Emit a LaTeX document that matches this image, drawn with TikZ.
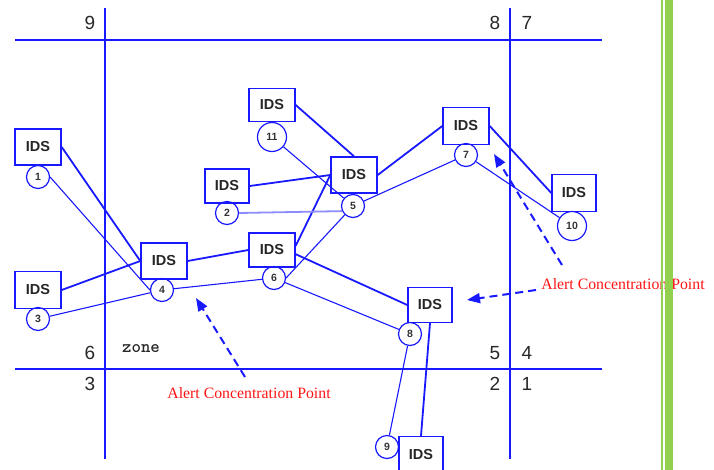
\documentclass[tikz,border=0pt]{standalone}
\usepackage{fontspec}
\setmainfont{Liberation Serif}
\setsansfont{Liberation Sans}
\usetikzlibrary{arrows.meta}
\definecolor{ln}{RGB}{25,25,255}
\definecolor{lnlight}{RGB}{140,140,255}
\definecolor{barg}{RGB}{146,208,80}
\definecolor{alertred}{RGB}{255,20,20}
\definecolor{numgray}{RGB}{40,40,40}
\begin{document}
\begin{tikzpicture}[x=1pt,y=-1pt,
  gridline/.style={draw=ln,line width=1.4pt},
  idsbox/.style={rectangle,draw=ln,line width=1.4pt,minimum width=46pt,minimum height=36pt,inner sep=0pt,
    font=\sffamily\bfseries\fontsize{14.5}{15}\selectfont,text=black!85},
  numc/.style={circle,draw=ln,line width=1.2pt,minimum size=23pt,inner sep=0pt,
    font=\sffamily\bfseries\fontsize{10.5}{11}\selectfont,text=black!80},
  bignumc/.style={numc,minimum size=29pt},
  strong/.style={draw=ln,line width=1.8pt},
  weak/.style={draw=ln,line width=1.1pt},
  faint/.style={draw=lnlight,line width=1.8pt},
  zonenum/.style={font=\sffamily\fontsize{19}{20}\selectfont,text=numgray},
  alerttext/.style={font=\fontsize{15.8}{17}\selectfont,text=alertred,inner sep=0pt},
  alertarrow/.style={draw=ln,line width=2pt,dash pattern=on 8pt off 5pt,-{Triangle[length=13pt,width=10pt]}}]
\useasboundingbox (0,0) rectangle (714,470);
\clip (0,0) rectangle (714,470);
% grid
\draw[gridline] (15,40) -- (602,40);
\draw[gridline] (15,369) -- (602,369);
\draw[gridline] (105,8) -- (105,459);
\draw[gridline] (510,8) -- (510,459);
% zone numbers
\node[zonenum] (z9) at (90,23) {9};
\node[zonenum] (z8) at (495,23) {8};
\node[zonenum] (z7) at (527,23) {7};
\node[zonenum] (z6) at (90,353) {6};
\node[zonenum] (z5) at (495,353) {5};
\node[zonenum] (z4) at (527,353) {4};
\node[zonenum] (z3) at (90,384) {3};
\node[zonenum] (z2) at (495,384) {2};
\node[zonenum] (z1) at (527,384) {1};
\node[font=\ttfamily\bfseries\fontsize{18}{19}\selectfont,text=numgray,anchor=base] (zone) at (141,352) {zone};
% IDS boxes
\node[idsbox] (b1) at (38,147) {IDS};
\node[idsbox,minimum height=33pt] (b11) at (272,105) {IDS};
\node[idsbox,minimum width=44pt,minimum height=34pt] (b2) at (227,186) {IDS};
\node[idsbox] (b5) at (354,175) {IDS};
\node[idsbox,minimum height=37pt] (b7) at (466,126) {IDS};
\node[idsbox,minimum width=44pt,minimum height=37pt] (b10) at (574,193) {IDS};
\node[idsbox,minimum height=37pt] (b3) at (38,290) {IDS};
\node[idsbox] (b4) at (164,261) {IDS};
\node[idsbox,minimum height=34pt] (b6) at (272,250) {IDS};
\node[idsbox,minimum width=44pt,minimum height=35pt] (b8) at (430,305) {IDS};
\node[idsbox,minimum width=44pt,minimum height=37pt] (b9) at (421,455) {IDS};
% circles
\node[numc] (c1) at (38,177) {1};
\node[bignumc] (c11) at (272,137) {11};
\node[numc] (c2) at (227,213) {2};
\node[numc] (c5) at (353,206) {5};
\node[numc] (c7) at (466,155) {7};
\node[bignumc] (c10) at (572,226) {10};
\node[numc] (c3) at (38,319) {3};
\node[numc] (c4) at (162,290) {4};
\node[numc] (c6) at (274,278) {6};
\node[numc] (c8) at (410,334) {8};
\node[numc] (c9) at (387,447) {9};
% thick IDS links
\draw[strong] (b1.east) -- (b4.west);
\draw[strong] (b3.east) -- (b4.west);
\draw[strong] (b4.east) -- (b6.west);
\draw[strong] (b6.10) -- (b5.west);
\draw[strong] (b2.east) -- (b5.west);
\draw[strong] (b11.east) -- (b5.north);
\draw[strong] (b5.east) -- (b7.west);
\draw[strong] (b7.east) -- (b10.west);
\draw[strong] (b6.-10) -- (b8.west);
\draw[strong] (b8.south) -- (b9.north);
% thin circle links
\draw[weak] (c1.east) -- (c4.west);
\draw[weak] (c3) -- (c4);
\draw[weak] (c4) -- (c6);
\draw[weak] (c6.east) -- (c5);
\draw[weak] (c6) -- (c8);
\draw[faint] (c2.east) -- (c5.205);
\draw[weak] (c11) -- (c5);
\draw[weak] (c5) -- (c7);
\draw[weak] (c7) -- (c10);
\draw[weak] (c8) -- (c9);
% alert labels and arrows
\node[alerttext] (alA) at (249,393) {Alert Concentration Point};
\node[alerttext] (alB) at (623,284) {Alert Concentration Point};
\coordinate (tA) at (245,377);
\coordinate (hA) at (196,298);
\coordinate (tB) at (536,290);
\coordinate (hB) at (467,300);
\coordinate (tC) at (562,265);
\coordinate (hC) at (494,154);
\draw[alertarrow] (tA) -- (hA);
\draw[alertarrow] (tB) -- (hB);
\draw[alertarrow] (tC) -- (hC);
% green side bar
\fill[barg] (660.7,0) rectangle (663,470);
\fill[barg] (665,0) rectangle (673,470);
\end{tikzpicture}
\end{document}
